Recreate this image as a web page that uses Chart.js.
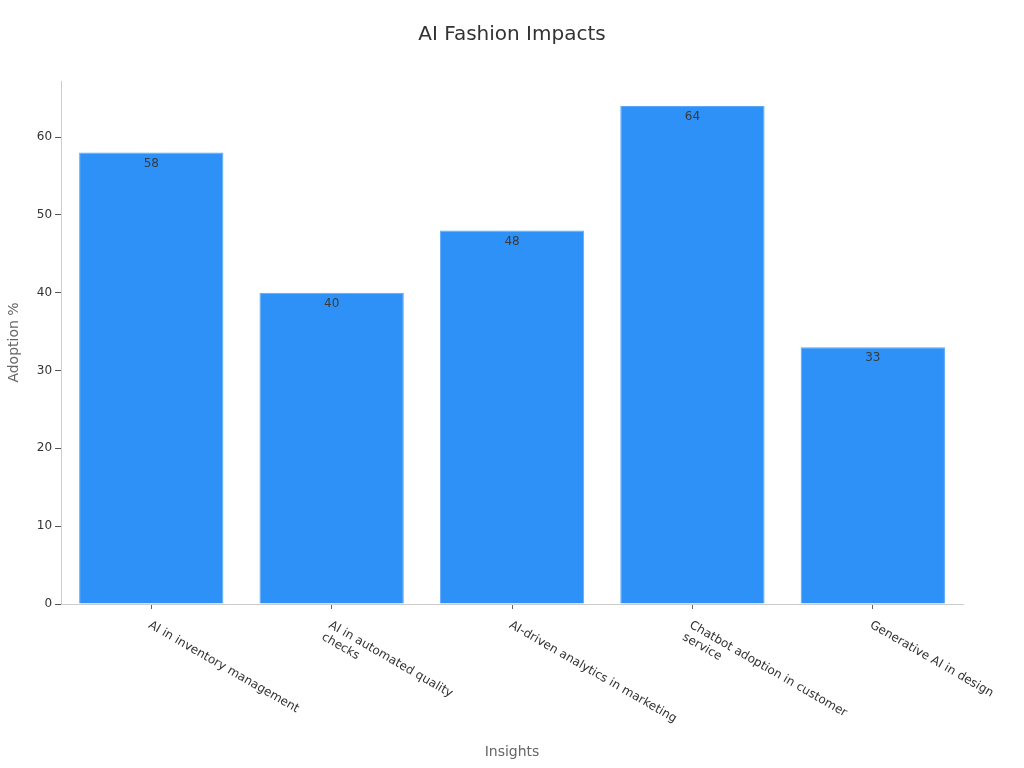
<!DOCTYPE html>
<html>
<head>
<meta charset="utf-8">
<script src="https://cdn.jsdelivr.net/npm/chart.js@4/dist/chart.umd.min.js"></script>
<style>
    html, body { margin: 0; padding: 0; background: #fff; }
    #wrap { width: 1024px; height: 768px; }
</style>
</head>
<body>
<div id="wrap"><canvas id="impactChart" width="1024" height="768"></canvas></div>
<script>
const categories = [
    ["AI in inventory management"],
    ["AI in automated quality", "checks"],
    ["AI-driven analytics in marketing"],
    ["Chatbot adoption in customer", "service"],
    ["Generative AI in design"]
];
const adoption = [58, 40, 48, 64, 33];
const yTicks = [0, 10, 20, 30, 40, 50, 60];

const FONT = "'DejaVu Sans', sans-serif";

// rotated x labels, written downwards to the right of each tick
const slantedLabels = {
    id: "slantedLabels",
    afterDraw(chart) {
        const ctx = chart.ctx;
        const xScale = chart.scales.x;
        ctx.save();
        ctx.font = "12px " + FONT;
        ctx.fillStyle = "#333";
        ctx.textAlign = "left";
        ctx.textBaseline = "top";
        categories.forEach((lines, i) => {
            const x = xScale.getPixelForValue(i);
            ctx.save();
            ctx.translate(x + 1, xScale.top + 15);
            ctx.rotate(Math.PI / 6);
            lines.forEach((line, j) => ctx.fillText(line, 0, j * 14));
            ctx.restore();
        });
        ctx.restore();
    }
};

// value printed just inside the top of each bar
const barValues = {
    id: "barValues",
    afterDatasetsDraw(chart) {
        const ctx = chart.ctx;
        const meta = chart.getDatasetMeta(0);
        ctx.save();
        ctx.font = "12px " + FONT;
        ctx.fillStyle = "#3a3a3a";
        ctx.textAlign = "center";
        ctx.textBaseline = "top";
        meta.data.forEach((bar, i) => {
            ctx.fillText(String(adoption[i]), bar.x, bar.y + 5);
        });
        ctx.restore();
    }
};

new Chart(document.getElementById("impactChart"), {
    type: "bar",
    data: {
        labels: categories,
        datasets: [{
            label: "Adoption %",
            data: adoption,
            backgroundColor: "#2e91f7",
            borderColor: "#5aa8f5",
            borderWidth: 1,
            barPercentage: 0.8,
            categoryPercentage: 1.0
        }]
    },
    plugins: [slantedLabels, barValues],
    options: {
        responsive: false,
        animation: false,
        layout: { padding: { top: 0, right: 6, bottom: 0, left: 6 } },
        plugins: {
            legend: { display: false },
            tooltip: { enabled: false },
            title: {
                display: true,
                text: "AI Fashion Impacts",
                color: "#333",
                font: { family: FONT, size: 20, weight: "normal" },
                padding: { top: 23, bottom: 34 }
            }
        },
        scales: {
            x: {
                afterFit(scale) { scale.height = 164; },
                grid: {
                    display: true,
                    drawOnChartArea: false,
                    offset: false,
                    tickLength: 5,
                    tickColor: "#666"
                },
                border: { color: "#cccccc" },
                ticks: { display: false },
                title: {
                    display: true,
                    text: "Insights",
                    color: "#666",
                    font: { family: FONT, size: 14 },
                    padding: { top: 4, bottom: 7 }
                }
            },
            y: {
                min: 0,
                max: 67.2,
                afterBuildTicks(scale) {
                    scale.ticks = yTicks.map(v => ({ value: v }));
                },
                grid: {
                    display: true,
                    drawOnChartArea: false,
                    tickLength: 6,
                    tickColor: "#555"
                },
                border: { color: "#cccccc" },
                ticks: {
                    color: "#333",
                    font: { family: FONT, size: 12 },
                    padding: 3
                },
                title: {
                    display: true,
                    text: "Adoption %",
                    color: "#666",
                    font: { family: FONT, size: 14 },
                    padding: { top: 0, bottom: 11 }
                }
            },
            // empty right-hand strip so the plot ends where the reference does
            spacer: {
                type: "linear",
                position: "right",
                afterFit(scale) { scale.width = 55; },
                grid: { display: false },
                border: { display: false },
                ticks: { display: false }
            }
        }
    }
});
</script>
</body>
</html>
